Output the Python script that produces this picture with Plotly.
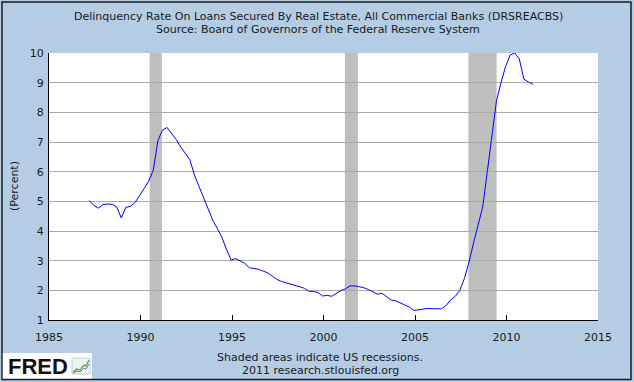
import plotly.graph_objects as go

# Quarterly observations, 1987Q1 .. 2011Q2 (plotted positions in decimal years)
first_year = 1987
n_quarters = 98
quarter_pos = [first_year + 0.2 + 0.25 * i for i in range(n_quarters)]

delinquency_rate = [
    5.03, 4.86, 4.77, 4.89, 4.91, 4.90, 4.81, 4.44, 4.80, 4.83,
    4.96, 5.18, 5.43, 5.68, 6.05, 7.05, 7.40, 7.49, 7.29, 7.08,
    6.83, 6.62, 6.40, 5.88, 5.50, 5.18, 4.78, 4.36, 4.08, 3.78,
    3.38, 3.02, 3.07, 2.98, 2.91, 2.76, 2.73, 2.71, 2.65, 2.59,
    2.48, 2.37, 2.30, 2.26, 2.22, 2.17, 2.12, 2.07, 1.97, 1.96,
    1.93, 1.81, 1.83, 1.80, 1.91, 1.99, 2.05, 2.15, 2.15, 2.13,
    2.09, 2.03, 1.96, 1.87, 1.90, 1.79, 1.67, 1.65, 1.57, 1.50,
    1.43, 1.32, 1.35, 1.38, 1.39, 1.38, 1.37, 1.38, 1.49, 1.68,
    1.80, 2.00, 2.40, 2.95, 3.60, 4.23, 4.81, 6.00, 7.20, 8.38,
    9.00, 9.55, 9.93, 10.00, 9.80, 9.12, 9.02, 8.94,
]

recession_start = [1990.50, 2001.17, 2007.92]
recession_end = [1991.17, 2001.88, 2009.46]

x_ticks = [1985, 1990, 1995, 2000, 2005, 2010, 2015]
y_ticks = [1, 2, 3, 4, 5, 6, 7, 8, 9, 10]

title_lines = [
    "Delinquency Rate On Loans Secured By Real Estate, All Commercial Banks (DRSREACBS)",
    "Source: Board of Governors of the Federal Reserve System",
]
footer_lines = ["Shaded areas indicate US recessions.", "2011 research.stlouisfed.org"]

BG = "#B4CDE4"
FONT = "DejaVu Sans"
TXT = "#1a1a1a"

# plot area in pixels: x 49..598, y 53..320
L, R, T, B = 49, 598, 53, 320
W, H = 634, 382
def px(x):
    return (x - L) / (R - L)
def py(y):
    return (B - y) / (B - T)

fig = go.Figure()
fig.add_trace(go.Scatter(
    x=quarter_pos, y=delinquency_rate, mode="lines",
    line=dict(color="#0000FF", width=1), hoverinfo="x+y", showlegend=False,
))

shapes = []
for s, e in zip(recession_start, recession_end):
    shapes.append(dict(type="rect", xref="x", yref="paper", x0=s, x1=e, y0=0, y1=1,
                       fillcolor="#BEBEBE", line=dict(width=0), layer="between"))

# outer frame
shapes.append(dict(type="rect", xref="paper", yref="paper", x0=px(2), x1=px(631), y0=py(2), y1=py(379.5),
                   fillcolor="rgba(0,0,0,0)", line=dict(color="#1a1a1a", width=1.5), layer="above"))

# FRED logo box
shapes.append(dict(type="rect", xref="paper", yref="paper", x0=px(2.8), x1=px(92), y0=py(353), y1=py(378.5),
                   fillcolor="white", line=dict(width=0), layer="above"))
shapes.append(dict(type="rect", xref="paper", yref="paper", x0=px(72), x1=px(90), y0=py(358), y1=py(374),
                   fillcolor="#EEF2F2", line=dict(color="#C8D0D0", width=1), layer="above"))
def path(points):
    return "M " + " L ".join(f"{px(a):.5f},{py(b):.5f}" for a, b in points)
shapes.append(dict(type="path", xref="paper", yref="paper",
                   path=path([(73, 372), (77, 369), (80, 370), (84, 365), (86, 366), (89, 360)]),
                   line=dict(color="#5A9E3A", width=1.2), layer="above"))
shapes.append(dict(type="path", xref="paper", yref="paper",
                   path=path([(73, 373), (77, 371), (80, 372), (84, 368), (86, 369), (89, 364)]),
                   line=dict(color="#5577BB", width=1), layer="above"))

annotations = [
    dict(text=title_lines[0], x=px(318), y=py(17), xref="paper", yref="paper", showarrow=False,
         font=dict(family=FONT, size=11, color=TXT), xanchor="center", yanchor="middle"),
    dict(text=title_lines[1], x=px(318), y=py(29.5), xref="paper", yref="paper", showarrow=False,
         font=dict(family=FONT, size=11, color=TXT), xanchor="center", yanchor="middle"),
    dict(text=footer_lines[0], x=px(320), y=py(357), xref="paper", yref="paper", showarrow=False,
         font=dict(family=FONT, size=11, color=TXT), xanchor="center", yanchor="middle"),
    dict(text=footer_lines[1], x=px(320), y=py(370.5), xref="paper", yref="paper", showarrow=False,
         font=dict(family=FONT, size=11, color=TXT), xanchor="center", yanchor="middle"),
    dict(text="(Percent)", x=px(14), y=py(186), xref="paper", yref="paper", showarrow=False, textangle=-90,
         font=dict(family=FONT, size=11, color=TXT), xanchor="center", yanchor="middle"),
    dict(text="<b>FRED</b>", x=px(38), y=py(366.5), xref="paper", yref="paper", showarrow=False,
         font=dict(family="Liberation Sans", size=22, color="#111111"), xanchor="center", yanchor="middle"),
]

fig.update_layout(
    width=W, height=H, autosize=False,
    margin=dict(l=L, r=W - R, t=T, b=H - B, pad=0),
    paper_bgcolor=BG, plot_bgcolor="white",
    font=dict(family=FONT, size=11, color=TXT),
    shapes=shapes, annotations=annotations, showlegend=False,
    xaxis=dict(range=[1985, 2015], tickvals=x_ticks, ticktext=[str(v) for v in x_ticks],
               showgrid=False, zeroline=False, showline=True, linecolor="black", linewidth=1,
               ticks="inside", ticklen=5, tickcolor="black", tickwidth=1, ticklabelstandoff=7,
               tickfont=dict(family=FONT, size=11, color=TXT), fixedrange=True),
    yaxis=dict(range=[1, 10], tickvals=y_ticks, ticktext=[str(v) for v in y_ticks],
               showgrid=True, gridcolor="#AAAAAA", gridwidth=1, zeroline=False,
               showline=True, linecolor="black", linewidth=1, ticks="", ticklabelstandoff=2,
               tickfont=dict(family=FONT, size=11, color=TXT), fixedrange=True),
)

fig.write_html(
    "out.html",
    config={"displayModeBar": False},
    post_script="document.body.style.margin='0px';document.body.style.padding='0px';document.body.style.overflow='hidden';",
)
